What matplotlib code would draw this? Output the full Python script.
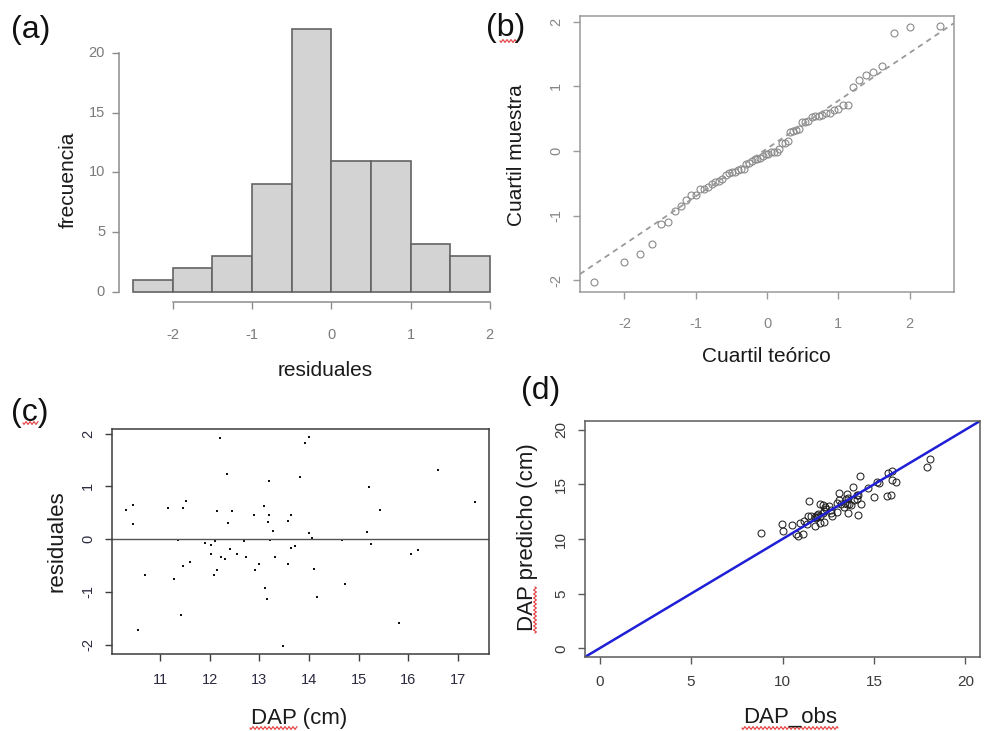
import numpy as np
import matplotlib
matplotlib.use("Agg")
import matplotlib.pyplot as plt
from matplotlib.lines import Line2D
from statistics import NormalDist

plt.rcParams['font.family'] = ['Liberation Sans', 'DejaVu Sans']
plt.rcParams['axes.unicode_minus'] = False

# fitted DAP (cm) and raw residuals (obs - fitted), one entry per tree
dap_pred = [10.31, 10.45, 10.46, 10.56, 10.69, 11.16, 11.28, 11.36, 11.41, 11.46,
            11.47, 11.53, 11.61, 11.91, 12.02, 12.03, 12.11, 12.08, 12.14, 12.15,
            12.21, 12.23, 12.31, 12.34, 12.36, 12.40, 12.45, 12.54, 12.70, 12.73,
            12.89, 12.91, 13.00, 13.10, 13.12, 13.16, 13.20, 13.18, 13.20, 13.22,
            13.28, 13.32, 13.47, 13.57, 13.58, 13.63, 13.63, 13.72, 13.83, 13.92,
            14.01, 14.01, 14.06, 14.11, 14.17, 14.66, 14.72, 15.17, 15.22, 15.26,
            15.43, 15.81, 16.05, 16.20, 16.60, 17.35]
residuales = [0.55, 0.65, 0.29, -1.72, -0.68, 0.59, -0.75, -0.02, -1.44, -0.51,
              0.59, 0.72, -0.43, -0.07, -0.12, -0.28, -0.04, -0.68, -0.59, 0.53,
              1.92, -0.34, -0.37, 1.23, 0.31, -0.18, 0.54, -0.28, -0.04, -0.33,
              0.45, -0.58, -0.47, 0.63, -0.92, -1.13, 1.10, 0.33, 0.45, -0.01,
              0.16, -0.33, -2.02, 0.34, -0.48, 0.46, -0.16, -0.13, 1.17, 1.82,
              1.93, 0.12, 0.03, -0.56, -1.09, -0.01, -0.85, 0.13, 0.99, -0.10,
              0.56, -1.59, -0.29, -0.20, 1.32, 0.71]
dap_obs = np.round(np.array(dap_pred) + np.array(residuales), 2)

hist_breaks = [-2.5, -2.0, -1.5, -1.0, -0.5, 0.0, 0.5, 1.0, 1.5, 2.0]

W, H = 985, 731
fig = plt.figure(figsize=(W / 100, H / 100), dpi=100)


def panel(l, t, r, b):
    return fig.add_axes([l / W, 1 - b / H, (r - l) / W, (b - t) / H])


def ftext(x, y, s, **kw):
    fig.text(x / W, 1 - y / H, s, **kw)


def rlim(v):
    # R pads each axis range by 4%
    lo, hi = float(np.min(v)), float(np.max(v))
    d = (hi - lo) * 0.04
    return lo - d, hi + d


def style(ax, col, lab_col, ypad, xpad, rot=90, size=10):
    for s in ax.spines.values():
        s.set_color(col)
        s.set_linewidth(1.1)
    ax.tick_params(direction='out', length=5, width=1, color=col,
                   labelcolor=lab_col, labelsize=size)
    ax.tick_params(axis='x', pad=xpad)
    ax.tick_params(axis='y', pad=ypad, labelrotation=rot)
    for t in ax.get_yticklabels():
        t.set_va('center')


def squiggle(x0, x1, y, vertical=False):
    # red spell-check underline
    n = int(abs(x1 - x0) * 3)
    u = np.linspace(x0, x1, n)
    w = y + 1.3 * np.sin((u - x0) * 2 * np.pi / 4.0)
    if vertical:
        xs, ys = w, u
    else:
        xs, ys = u, w
    fig.add_artist(Line2D(np.array(xs) / W, 1 - np.array(ys) / H,
                          transform=fig.transFigure, color='#e23b3b', lw=0.8))


# (a) histogram of residuals
ax = panel(119, 19, 504, 302)
counts, _, _ = ax.hist(residuales, bins=hist_breaks, color='#d3d3d3',
                       edgecolor='#646464', linewidth=1.2)
ax.set_xlim(rlim(hist_breaks))
ax.set_ylim(rlim([0, counts.max()]))
ax.set_xticks([-2, -1, 0, 1, 2])
ax.set_yticks([0, 5, 10, 15, 20])
ax.spines[['top', 'right']].set_visible(False)
ax.spines['left'].set_bounds(0, 20)
ax.spines['bottom'].set_bounds(-2, 2)
style(ax, '#8c8c8c', '#7a7a7a', ypad=5, xpad=14, rot=0, size=10.5)

# (b) normal QQ plot
n = len(residuales)
teor = [NormalDist().inv_cdf((i + 0.5) / n) for i in range(n)]
muestra = np.sort(residuales)
ax = panel(580, 16, 954, 292)
ax.plot(teor, muestra, 'o', mfc='none', mec='#8a8a8a', ms=5, mew=0.8)
q1, q3 = np.quantile(residuales, [0.25, 0.75])
z1, z3 = NormalDist().inv_cdf(0.25), NormalDist().inv_cdf(0.75)
ax.axline((z1, q1), (z3, q3), color='#9a9a9a', lw=1.3, ls=(0, (3, 2.5)))
ax.set_xlim(rlim(teor))
ax.set_ylim(rlim(muestra))
ax.set_xticks([-2, -1, 0, 1, 2])
ax.set_yticks([-2, -1, 0, 1, 2])
style(ax, '#9a9a9a', '#858585', ypad=7, xpad=13, size=10.5)

# (c) residuals vs fitted DAP
ax = panel(112, 429, 489, 654)
ax.plot(dap_pred, residuales, 's', color='#111111', ms=1.8, mew=0)
ax.axhline(0, color='#555555', lw=1)
ax.set_xlim(rlim(dap_pred))
ax.set_ylim(rlim(residuales))
ax.set_xticks(range(11, 18))
ax.set_yticks([-2, -1, 0, 1, 2])
style(ax, '#3c3c3c', '#2a2a40', ypad=7, xpad=9, size=10.5)

# (d) predicted vs observed DAP with 1:1 line
ax = panel(585, 421, 980, 657)
ax.plot(dap_obs, dap_pred, 'o', mfc='none', mec='#222222', ms=5, mew=0.75)
ax.axline((0, 0), slope=1, color='#1f1fd6', lw=1.8)
ax.set_xlim(rlim([0, 20]))
ax.set_ylim(rlim([0, 20]))
ax.set_xticks([0, 5, 10, 15, 20])
ax.set_yticks([0, 5, 10, 15, 20])
style(ax, '#5a5a5a', '#3a3a3a', ypad=7, xpad=8, size=11)

# axis titles
lab = dict(color='#1a1a1a')
ftext(68, 180, 'frecuencia', size=15, rotation=90, ha='center', va='center', **lab)
ftext(325, 376, 'residuales', size=15, ha='center', va='baseline', **lab)
ftext(517, 155, 'Cuartil muestra', size=15, rotation=90, ha='center', va='center', **lab)
ftext(766, 362, 'Cuartil teórico', size=15, ha='center', va='baseline', **lab)
ftext(57, 541, 'residuales', size=16, rotation=90, ha='center', va='center', **lab)
ftext(299, 724, 'DAP (cm)', size=16, ha='center', va='baseline', **lab)
ftext(527, 537, 'DAP predicho (cm)', size=16, rotation=90, ha='center', va='center', **lab)
ftext(790, 723, 'DAP_obs', size=16, ha='center', va='baseline', **lab)

# panel letters
ftext(11, 38, '(a)', size=23, va='baseline', color='#111111')
ftext(486, 36, '(b)', size=23, va='baseline', color='#111111')
ftext(11, 421, '(c)', size=23, va='baseline', color='#111111')
ftext(521, 399, '(d)', size=23, va='baseline', color='#111111')

squiggle(500, 517, 41)
squiggle(23, 38, 423)
squiggle(250, 297, 728)
squiggle(742, 838, 728)
squiggle(587, 633, 535, vertical=True)

fig.savefig('out.png', dpi=100)
